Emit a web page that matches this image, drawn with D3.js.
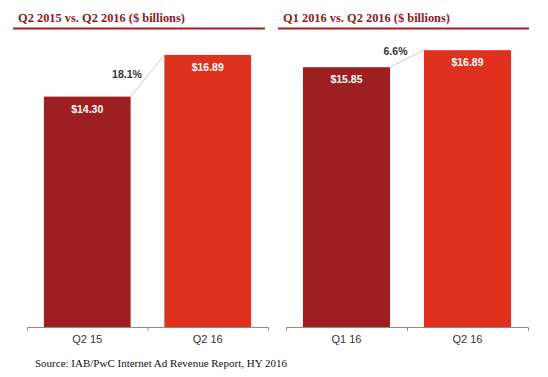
<!DOCTYPE html>
<html>
<head>
<meta charset="utf-8">
<script src="https://cdn.jsdelivr.net/npm/d3@7"></script>
<style>
  body { margin: 0; background: #fff; }
  .title { font-family: "Liberation Serif", "DejaVu Serif", serif; font-weight: bold; font-size: 12.4px; fill: #8e1b1e; }
  .source { font-family: "Liberation Serif", "DejaVu Serif", serif; font-size: 11px; fill: #111; }
  .tick text { font-family: "Liberation Sans", Arial, sans-serif; font-size: 11px; fill: #333; }
  .bar-label { font-family: "Liberation Sans", Arial, sans-serif; font-weight: bold; font-size: 10.5px; fill: #fff; }
  .growth { font-family: "Liberation Sans", Arial, sans-serif; font-weight: bold; font-size: 10.5px; fill: #333; }
</style>
</head>
<body>
<div id="chart"></div>
<script>
var width = 548, height = 377;

// data
var titles = ["Q2 2015 vs. Q2 2016 ($ billions)", "Q1 2016 vs. Q2 2016 ($ billions)"];
var leftCategories = ["Q2 15", "Q2 16"];
var leftValues = [14.30, 16.89];
var rightCategories = ["Q1 16", "Q2 16"];
var rightValues = [15.85, 16.89];
var growthLabels = ["18.1%", "6.6%"];
var barLabels = [["$14.30", "$16.89"], ["$15.85", "$16.89"]];
var sourceText = "Source: IAB/PwC Internet Ad Revenue Report, HY 2016";

var barColors = ["#9d1f21", "#e0301e"];

var svg = d3.select("#chart").append("svg")
  .attr("width", width)
  .attr("height", height);

var panels = [
  { title: titles[0], cats: leftCategories, vals: leftValues, growth: growthLabels[0], labels: barLabels[0],
    titleX: 18, lineX: [13, 265], axisX: [27, 268], yTop: 37, gdx: -20.5, gdy: 2 },
  { title: titles[1], cats: rightCategories, vals: rightValues, growth: growthLabels[1], labels: barLabels[1],
    titleX: 283, lineX: [278, 529], axisX: [286, 528], yTop: 32, gdx: -11.5, gdy: -3.5 }
];

var baseY = 327;

panels.forEach(function(p) {
  var g = svg.append("g");

  g.append("text")
    .attr("class", "title")
    .attr("x", p.titleX)
    .attr("y", 22)
    .text(p.title);

  g.append("line")
    .attr("x1", p.lineX[0]).attr("x2", p.lineX[1])
    .attr("y1", 28.5).attr("y2", 28.5)
    .attr("stroke", "#a32020")
    .attr("stroke-width", 2);

  var x = d3.scaleBand()
    .domain(p.cats)
    .range(p.axisX);

  var y = d3.scaleLinear()
    .domain([0, 18])
    .range([baseY, p.yTop]);

  var barW = x.bandwidth() * 0.72;

  // bars
  g.selectAll(".bar")
    .data(p.vals)
    .enter().append("rect")
    .attr("class", "bar")
    .attr("x", function(d, i) { return x(p.cats[i]) + (x.bandwidth() - barW) / 2; })
    .attr("y", function(d) { return y(d); })
    .attr("width", barW)
    .attr("height", function(d) { return baseY - y(d); })
    .attr("fill", function(d, i) { return barColors[i]; });

  // connector between the bar tops
  var x0 = x(p.cats[0]) + (x.bandwidth() + barW) / 2;
  var x1 = x(p.cats[1]) + (x.bandwidth() - barW) / 2;
  g.append("line")
    .attr("x1", x0).attr("y1", y(p.vals[0]))
    .attr("x2", x1).attr("y2", y(p.vals[1]))
    .attr("stroke", "#d9c3c3")
    .attr("stroke-width", 1);

  g.append("text")
    .attr("class", "growth")
    .attr("x", (x0 + x1) / 2 + p.gdx)
    .attr("y", (y(p.vals[0]) + y(p.vals[1])) / 2 + p.gdy)
    .attr("text-anchor", "middle")
    .text(p.growth);

  // value labels
  g.selectAll(".bar-label")
    .data(p.vals)
    .enter().append("text")
    .attr("class", "bar-label")
    .attr("x", function(d, i) { return x(p.cats[i]) + x.bandwidth() / 2; })
    .attr("y", function(d) { return y(d) + 16; })
    .attr("text-anchor", "middle")
    .text(function(d, i) { return p.labels[i]; });

  // axis
  var axis = g.append("g")
    .attr("transform", "translate(0," + baseY + ")")
    .call(d3.axisBottom(x).tickSize(0).tickSizeOuter(4).tickPadding(8));
  axis.select(".domain").attr("stroke", "#948a78").attr("fill", "none");

  axis.append("line")
    .attr("x1", x(p.cats[1]) + 0.5).attr("x2", x(p.cats[1]) + 0.5)
    .attr("y1", 0).attr("y2", 4)
    .attr("stroke", "#948a78");
});

svg.append("text")
  .attr("class", "source")
  .attr("x", 35)
  .attr("y", 367)
  .text(sourceText);
</script>
</body>
</html>
